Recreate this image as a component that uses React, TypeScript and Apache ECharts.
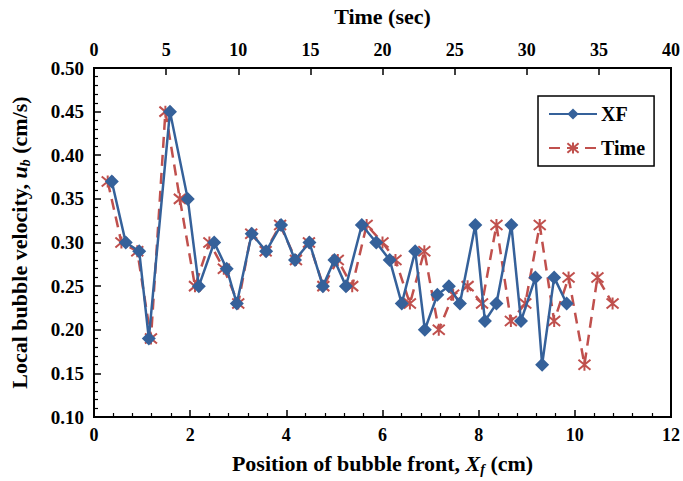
import React, { useEffect, useRef } from "react";
import * as echarts from "echarts";

const xfX = [0.37, 0.66, 0.94, 1.14, 1.58, 1.95, 2.18, 2.5, 2.76, 2.97, 3.28, 3.58, 3.89, 4.18, 4.48, 4.76, 5.0, 5.24, 5.57, 5.87, 6.15, 6.4, 6.68, 6.88, 7.14, 7.38, 7.61, 7.93, 8.13, 8.37, 8.68, 8.88, 9.18, 9.32, 9.57, 9.83];
const xfY = [0.37, 0.3, 0.29, 0.19, 0.45, 0.35, 0.25, 0.3, 0.27, 0.23, 0.31, 0.29, 0.32, 0.28, 0.3, 0.25, 0.28, 0.25, 0.32, 0.3, 0.28, 0.23, 0.29, 0.2, 0.24, 0.25, 0.23, 0.32, 0.21, 0.23, 0.32, 0.21, 0.26, 0.16, 0.26, 0.23];
const timeX = [0.95, 1.9, 3.0, 3.95, 4.95, 5.95, 7.0, 8.0, 9.0, 10.0, 10.9, 11.9, 12.9, 14.0, 14.9, 15.9, 16.9, 17.9, 18.9, 20.0, 20.9, 21.9, 22.9, 23.9, 24.9, 25.9, 26.9, 27.9, 28.9, 29.9, 30.9, 31.9, 32.9, 34.0, 34.9, 35.95];
const timeY = [0.37, 0.3, 0.29, 0.19, 0.45, 0.35, 0.25, 0.3, 0.27, 0.23, 0.31, 0.29, 0.32, 0.28, 0.3, 0.25, 0.28, 0.25, 0.32, 0.3, 0.28, 0.23, 0.29, 0.2, 0.24, 0.25, 0.23, 0.32, 0.21, 0.23, 0.32, 0.21, 0.26, 0.16, 0.26, 0.23];

const FONT = "'Liberation Serif', 'Times New Roman', serif";
const BLUE = "#35619A";
const RED = "#C0504D";
const STAR = "path://M0,0L10,10M10,0L0,10M5,-1L5,11";

export default function App() {
  const ref = useRef<HTMLDivElement>(null);
  useEffect(() => {
    if (!ref.current) return;
    const chart = echarts.init(ref.current, null, { renderer: "svg" });
    const labelStyle = { fontFamily: FONT, fontWeight: "bold" as const, fontSize: 18, color: "#000" };
    const titleRich = {
      b: { ...labelStyle, fontSize: 22 },
      i: { ...labelStyle, fontSize: 22, fontStyle: "italic" },
      s: { ...labelStyle, fontSize: 14, fontStyle: "italic", padding: [12, 0, 0, 0] },
    };
    chart.setOption({
      animation: false,
      backgroundColor: "#fff",
      grid: { left: 90, right: 10, top: 68, bottom: 63, show: true, borderColor: "#000", borderWidth: 2, backgroundColor: "transparent" },
      legend: {
        orient: "vertical",
        left: 538,
        top: 96,
        padding: [8, 9, 8, 10],
        itemGap: 14,
        itemWidth: 48,
        itemHeight: 14,
        borderColor: "#000",
        borderWidth: 1.5,
        backgroundColor: "#fff",
        textStyle: { fontFamily: FONT, fontWeight: "bold", fontSize: 20, color: "#000", padding: [0, 0, 0, -1] },
        data: ["XF", "Time"],
      },
      xAxis: [
        {
          type: "value",
          position: "bottom",
          min: 0,
          max: 12,
          interval: 2,
          name: "{b|Position of bubble front, }{i|X}{s|f}{b| (cm)}",
          nameLocation: "middle",
          nameGap: 33,
          nameTextStyle: { rich: titleRich },
          axisLine: { lineStyle: { color: "#000", width: 2 } },
          axisTick: { inside: true, length: 7, lineStyle: { color: "#000", width: 1.5 } },
          minorTick: { show: true, splitNumber: 5, length: 4, lineStyle: { color: "#000", width: 1.2 } },
          splitLine: { show: false },
          axisLabel: { ...labelStyle, margin: 9 },
        },
        {
          type: "value",
          position: "top",
          min: 0,
          max: 40,
          interval: 5,
          name: "Time (sec)",
          nameLocation: "middle",
          nameGap: 41,
          nameTextStyle: { ...labelStyle, fontSize: 22 },
          axisLine: { lineStyle: { color: "#000", width: 2 } },
          axisTick: { inside: true, length: 7, lineStyle: { color: "#000", width: 1.5 } },
          splitLine: { show: false },
          axisLabel: { ...labelStyle, margin: 9 },
        },
      ],
      yAxis: {
        type: "value",
        min: 0.1,
        max: 0.5,
        interval: 0.05,
        name: "{b|Local bubble velocity, }{i|u}{s|b}{b| (cm/s)}",
        nameLocation: "middle",
        nameGap: 62,
        nameTextStyle: { rich: titleRich },
        axisLine: { lineStyle: { color: "#000", width: 2 } },
        axisTick: { inside: true, length: 7, lineStyle: { color: "#000", width: 1.5 } },
        minorTick: { show: true, splitNumber: 5, length: 4, lineStyle: { color: "#000", width: 1.2 } },
        splitLine: { show: false },
        axisLabel: { ...labelStyle, fontSize: 19, margin: 10, formatter: (v: number) => v.toFixed(2) },
      },
      series: [
        {
          name: "Time",
          type: "line",
          xAxisIndex: 1,
          data: timeX.map((x, i) => [x, timeY[i]]),
          symbol: STAR,
          symbolSize: 12,
          itemStyle: { color: RED, borderColor: RED, borderWidth: 2 },
          lineStyle: { color: RED, width: 2.5, type: [11, 7] },
          z: 2,
        },
        {
          name: "XF",
          type: "line",
          xAxisIndex: 0,
          data: xfX.map((x, i) => [x, xfY[i]]),
          symbol: "diamond",
          symbolSize: 14,
          itemStyle: { color: BLUE },
          lineStyle: { color: BLUE, width: 2.5 },
          z: 3,
        },
      ],
    });
    return () => chart.dispose();
  }, []);
  return <div ref={ref} style={{ width: 683, height: 481, position: "absolute", left: 0, top: 0 }} />;
}
